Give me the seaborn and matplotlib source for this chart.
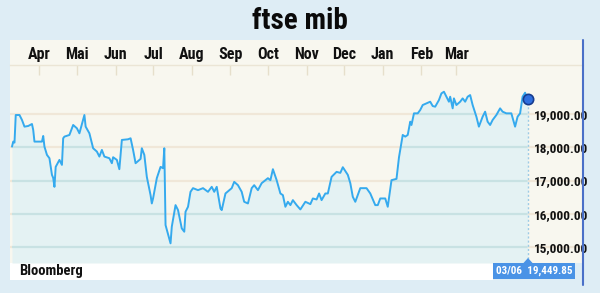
import numpy as np
import pandas as pd
import matplotlib
matplotlib.use("Agg")
import matplotlib.pyplot as plt
from matplotlib import font_manager as fm
from matplotlib.patches import Rectangle, Polygon
from matplotlib.lines import Line2D
import seaborn as sns

# ---------------- data ----------------
start_date = "2013-03-10"
days = [0, 1, 2, 3, 6, 8, 10, 13, 16, 17, 18, 24, 25, 26, 28, 30, 32, 33, 34, 35,
        38, 40, 41, 42, 46, 49, 52, 54, 58, 59, 62, 65, 68, 70, 72, 74, 78, 80, 81, 84,
        86, 88, 93, 95, 97, 99, 103, 104, 106, 108, 111, 112, 113, 116, 119, 121, 122, 123, 127, 128,
        131, 133, 136, 138, 139, 141, 143, 145, 149, 153, 157, 160, 162, 164, 167, 168, 171, 176, 178, 181,
        184, 186, 189, 192, 194, 197, 200, 203, 205, 207, 209, 212, 215, 217, 219, 221, 223, 225, 228, 231,
        235, 239, 241, 244, 246, 248, 251, 253, 256, 260, 263, 265, 269, 271, 273, 275, 279, 284, 287, 291,
        293, 295, 299, 301, 304, 308, 310, 313, 315, 317, 319, 320, 322, 325, 327, 329, 332, 335, 337, 339,
        342, 344, 346, 348, 350, 351, 353, 354, 356, 359, 361, 363, 365, 367, 369, 372, 374, 377, 379, 381,
        383, 385, 388, 391, 393, 396, 400, 403, 405, 407, 409, 411, 413]
values = [18020, 18170, 18140, 18970, 18970, 18820, 18620, 18640, 18700, 18520, 18170, 18170, 18340, 18020, 17770, 17670, 17170, 17080, 16810, 17410,
          17620, 17470, 18270, 18320, 18370, 18670, 18570, 18420, 18970, 18620, 18420, 17970, 17870, 17720, 17920, 17720, 17670, 17520, 17700, 17620,
          17340, 18220, 18240, 18270, 17920, 17520, 17650, 17970, 17770, 17110, 16560, 16310, 16460, 17070, 17410, 17370, 17970, 15660, 15110, 15610,
          16260, 16110, 15560, 15460, 16060, 16210, 16660, 16770, 16710, 16770, 16660, 16810, 16660, 16810, 16160, 16110, 16610, 16770, 16960, 16860,
          16660, 16360, 16310, 16770, 16860, 16710, 16920, 17010, 17070, 17010, 17340, 17010, 16610, 16560, 16210, 16360, 16260, 16410, 16260, 16130,
          16360, 16290, 16460, 16430, 16610, 16410, 16610, 16610, 17110, 17260, 17230, 17400, 17170, 16920, 16510, 16360, 16770, 16770, 16610, 16260,
          16260, 16460, 16460, 16210, 17010, 17050, 17700, 18370, 18320, 18370, 18770, 18670, 19020, 19020, 19120, 19270, 19320, 19370, 19240, 19220,
          19420, 19620, 19670, 19520, 19370, 19520, 19170, 19470, 19270, 19370, 19470, 19370, 19520, 19570, 19270, 18920, 18620, 18920, 19070, 18770,
          18670, 18820, 18970, 19170, 19070, 19020, 19020, 18620, 18920, 19020, 19520, 19640, 19449.85]
assert len(days) == len(values), (len(days), len(values))

month_labels = ["Apr", "Mai", "Jun", "Jul", "Aug", "Sep", "Oct", "Nov", "Dec", "Jan", "Feb", "Mar"]
month_starts = ["2013-04-01", "2013-05-01", "2013-06-01", "2013-07-01", "2013-08-01", "2013-09-01",
                "2013-10-01", "2013-11-01", "2013-12-01", "2014-01-01", "2014-02-01", "2014-03-01"]
y_ticks = [15000, 16000, 17000, 18000, 19000]
y_tick_labels = ["15,000.00", "16,000.00", "17,000.00", "18,000.00", "19,000.00"]
title = "ftse mib"
source = "Bloomberg"
last_label = "03/06  19,449.85"

df = pd.DataFrame({
    "date": pd.Timestamp(start_date) + pd.to_timedelta(days, unit="D"),
    "value": values,
})

# ---------------- font choice (narrow if available) ----------------
ttf = fm.fontManager.ttflist
names = {f.name for f in ttf}
narrow = None
stretch = "normal"
for cand in ["Liberation Sans Narrow", "Roboto Condensed", "Open Sans Condensed", "Noto Sans Condensed"]:
    if cand in names:
        narrow = cand
        break
if narrow is None and any(f.name == "DejaVu Sans" and f.stretch == "condensed" for f in ttf):
    narrow = "DejaVu Sans"
    stretch = "condensed"
if narrow is None:
    FAM = ["Roboto", "DejaVu Sans"]
    k = 0.78
else:
    FAM = [narrow, "DejaVu Sans"]
    k = 1.0

# ---------------- style ----------------
W, H = 600, 293
fig_bg = "#deedf5"
panel_cream = "#f8f7ef"
fill_blue = "#e4f2f3"
line_blue = "#35aaee"
cond = dict(fontstretch=stretch, fontweight="bold", family=FAM)

sns.set_theme(style="white")
plt.rcParams["font.family"] = FAM

fig = plt.figure(figsize=(W / 100, H / 100), dpi=100, facecolor=fig_bg)

def fx(px):
    return px / W

def fy(py):
    return 1 - py / H

# panel header area (cream) above the axes
fig.patches.append(Rectangle((fx(10), fy(65)), fx(573), 25 / H, transform=fig.transFigure,
                             facecolor=panel_cream, edgecolor="none", zorder=-2))
# Bloomberg white strip
fig.patches.append(Rectangle((fx(10), fy(280)), fx(483), 17 / H, transform=fig.transFigure,
                             facecolor="white", edgecolor="none", zorder=-2))
# label box and pointer
box_col = "#4a93e6"
fig.patches.append(Rectangle((fx(493), fy(279)), fx(82), 16 / H, transform=fig.transFigure,
                             facecolor=box_col, edgecolor="none", zorder=3))
fig.patches.append(Polygon([(fx(523), fy(263.5)), (fx(533), fy(263.5)), (fx(528), fy(258))],
                           closed=True, transform=fig.transFigure, facecolor=box_col,
                           edgecolor="none", zorder=3))
# right blue edge
fig.lines.append(Line2D([fx(583), fx(583)], [fy(40), fy(285)], transform=fig.transFigure,
                        color="#4a70c8", lw=1.5, zorder=4))

ax = fig.add_axes([fx(10), fy(263), fx(573), (263 - 65) / H])
ax.set_facecolor(panel_cream)

t0 = pd.Timestamp(start_date)
xmin = t0 - pd.Timedelta(days=1.6)
xmax = t0 + pd.Timedelta(days=457.4)
ymin, ymax = 14519, 20474
ax.set_xlim(xmin, xmax)
ax.set_ylim(ymin, ymax)

# fill under the curve
fill = ax.fill_between(df["date"], df["value"], ymin, color=fill_blue, lw=0, zorder=1)

# gridlines: beige over cream, teal inside the fill
for v in y_ticks:
    ax.axhline(v, color="#f0e7d8", lw=1.6, zorder=0.5)
    gl = ax.axhline(v, color="#c8e2e3", lw=1.6, zorder=1.5)
    gl.set_clip_path(fill.get_paths()[0], ax.transData)

sns.lineplot(data=df, x="date", y="value", ax=ax, color=line_blue, lw=1.4, zorder=3)

last = df.iloc[-1]
ax.vlines(last["date"], ymin, last["value"], color="#9ccbe6", lw=1, linestyles=(0, (1.5, 1.5)), zorder=2)
ax.scatter([last["date"]], [last["value"]], s=55, color="#2e6fe0", edgecolor="#173c8e", lw=1.2, zorder=5)

# axes formatting
ax.set_xlabel("")
ax.set_ylabel("")
for s in ["left", "right", "bottom"]:
    ax.spines[s].set_visible(False)
ax.spines["top"].set_color("#ebe5d5")
ax.spines["top"].set_linewidth(1)

ax.set_xticks(pd.to_datetime(month_starts))
ax.set_xticklabels(month_labels)
ax.xaxis.tick_top()
ax.tick_params(axis="x", which="major", direction="in", length=7, width=1, color="#e6dfcb",
               pad=2, labelsize=11.5 * k, labelcolor="#111111")
for lab in ax.get_xticklabels():
    lab.set_fontweight("bold")
    lab.set_fontstretch(stretch)
    lab.set_family(FAM)

ax.set_yticks(y_ticks)
ax.set_yticklabels(y_tick_labels)
ax.yaxis.tick_right()
ax.tick_params(axis="y", which="major", length=0, pad=-35, labelsize=9.5 * k, labelcolor="#111111")
for lab in ax.get_yticklabels():
    lab.set_horizontalalignment("left")
    lab.set_fontweight("bold")
    lab.set_fontstretch(stretch)
    lab.set_family(FAM)
ax.grid(False)

# texts
fig.text(fx(300), fy(21), title, ha="center", va="center", fontsize=21 * k, color="#0a0a0a", **cond)
fig.text(fx(19), fy(271.5), source, ha="left", va="center", fontsize=10.5 * k, color="#111111", **cond)
fig.text(fx(534), fy(271), last_label, ha="center", va="center", fontsize=8 * k, color="white",
         zorder=5, **cond)

fig.savefig("out.png", dpi=100, facecolor=fig_bg)
